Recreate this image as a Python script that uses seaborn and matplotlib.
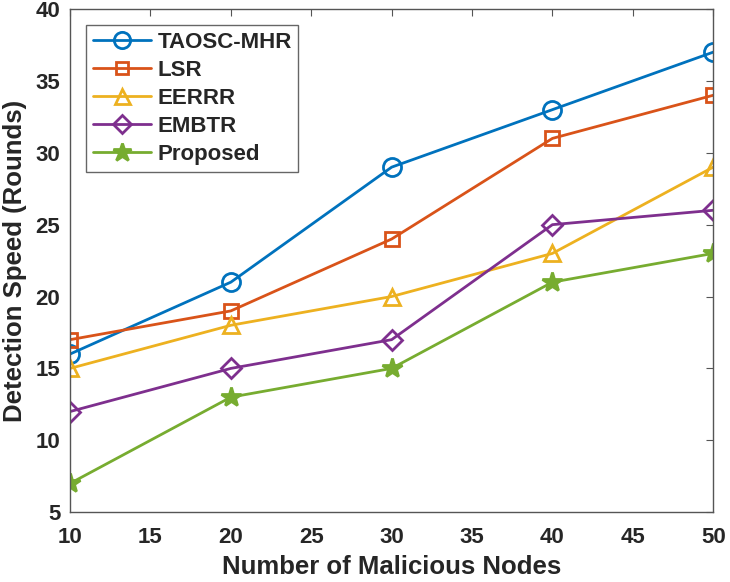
import pandas as pd
import seaborn as sns
import matplotlib.pyplot as plt

nodes = [10, 20, 30, 40, 50]
taosc_mhr = [16, 21, 29, 33, 37]
lsr = [17, 19, 24, 31, 34]
eerrr = [15, 18, 20, 23, 29]
embtr = [12, 15, 17, 25, 26]
proposed = [7, 13, 15, 21, 23]

series = {
    "TAOSC-MHR": taosc_mhr,
    "LSR": lsr,
    "EERRR": eerrr,
    "EMBTR": embtr,
    "Proposed": proposed,
}
colors = ["#0072BD", "#D95319", "#EDB120", "#7E2F8E", "#77AC30"]
markers = ["o", "s", "^", "D", "*"]
sizes = [13, 10, 12, 10, 15]

sns.set_style("white")
plt.rcParams["font.family"] = ["Liberation Sans", "DejaVu Sans"]
plt.rcParams["font.weight"] = "bold"
plt.rcParams["text.color"] = "#262626"

fig = plt.figure(figsize=(7.3, 5.82), dpi=100)
ax = fig.add_axes([0.096, 0.12, 0.881, 0.8645])

for (name, vals), c, m, s in zip(series.items(), colors, markers, sizes):
    df = pd.DataFrame({"x": nodes, "y": vals})
    sns.lineplot(data=df, x="x", y="y", ax=ax, color=c, marker=m, markersize=s,
                 markerfacecolor="none" if m != "*" else c, markeredgecolor=c,
                 markeredgewidth=2, linewidth=2, label=name)

ax.set_xlim(10, 50)
ax.set_ylim(5, 40)
ax.set_xticks(range(10, 51, 5))
ax.set_yticks(range(5, 41, 5))
ax.tick_params(direction="in", top=True, right=True, length=5, color="#555555",
               labelsize=16, labelcolor="#262626")
ax.tick_params(axis="x", pad=11)
ax.tick_params(axis="y", pad=7)
for lab in ax.get_xticklabels() + ax.get_yticklabels():
    lab.set_fontweight("bold")
for sp in ax.spines.values():
    sp.set_color("#555555")
    sp.set_linewidth(1)

ax.set_xlabel("Number of Malicious Nodes", fontsize=18.5, fontweight="bold", labelpad=5)
ax.set_ylabel("Detection Speed (Rounds)", fontsize=18.5, fontweight="bold", labelpad=6)

leg = ax.legend(loc="upper left", bbox_to_anchor=(0.025, 0.968), fontsize=16,
                frameon=True, fancybox=False, edgecolor="#404040",
                handlelength=2.6, borderpad=0.3, borderaxespad=0,
                labelspacing=0.32, handletextpad=0.3, markerscale=0.9)
leg.get_frame().set_linewidth(1)
for t in leg.get_texts():
    t.set_fontweight("bold")

fig.savefig("out.png", dpi=100)
